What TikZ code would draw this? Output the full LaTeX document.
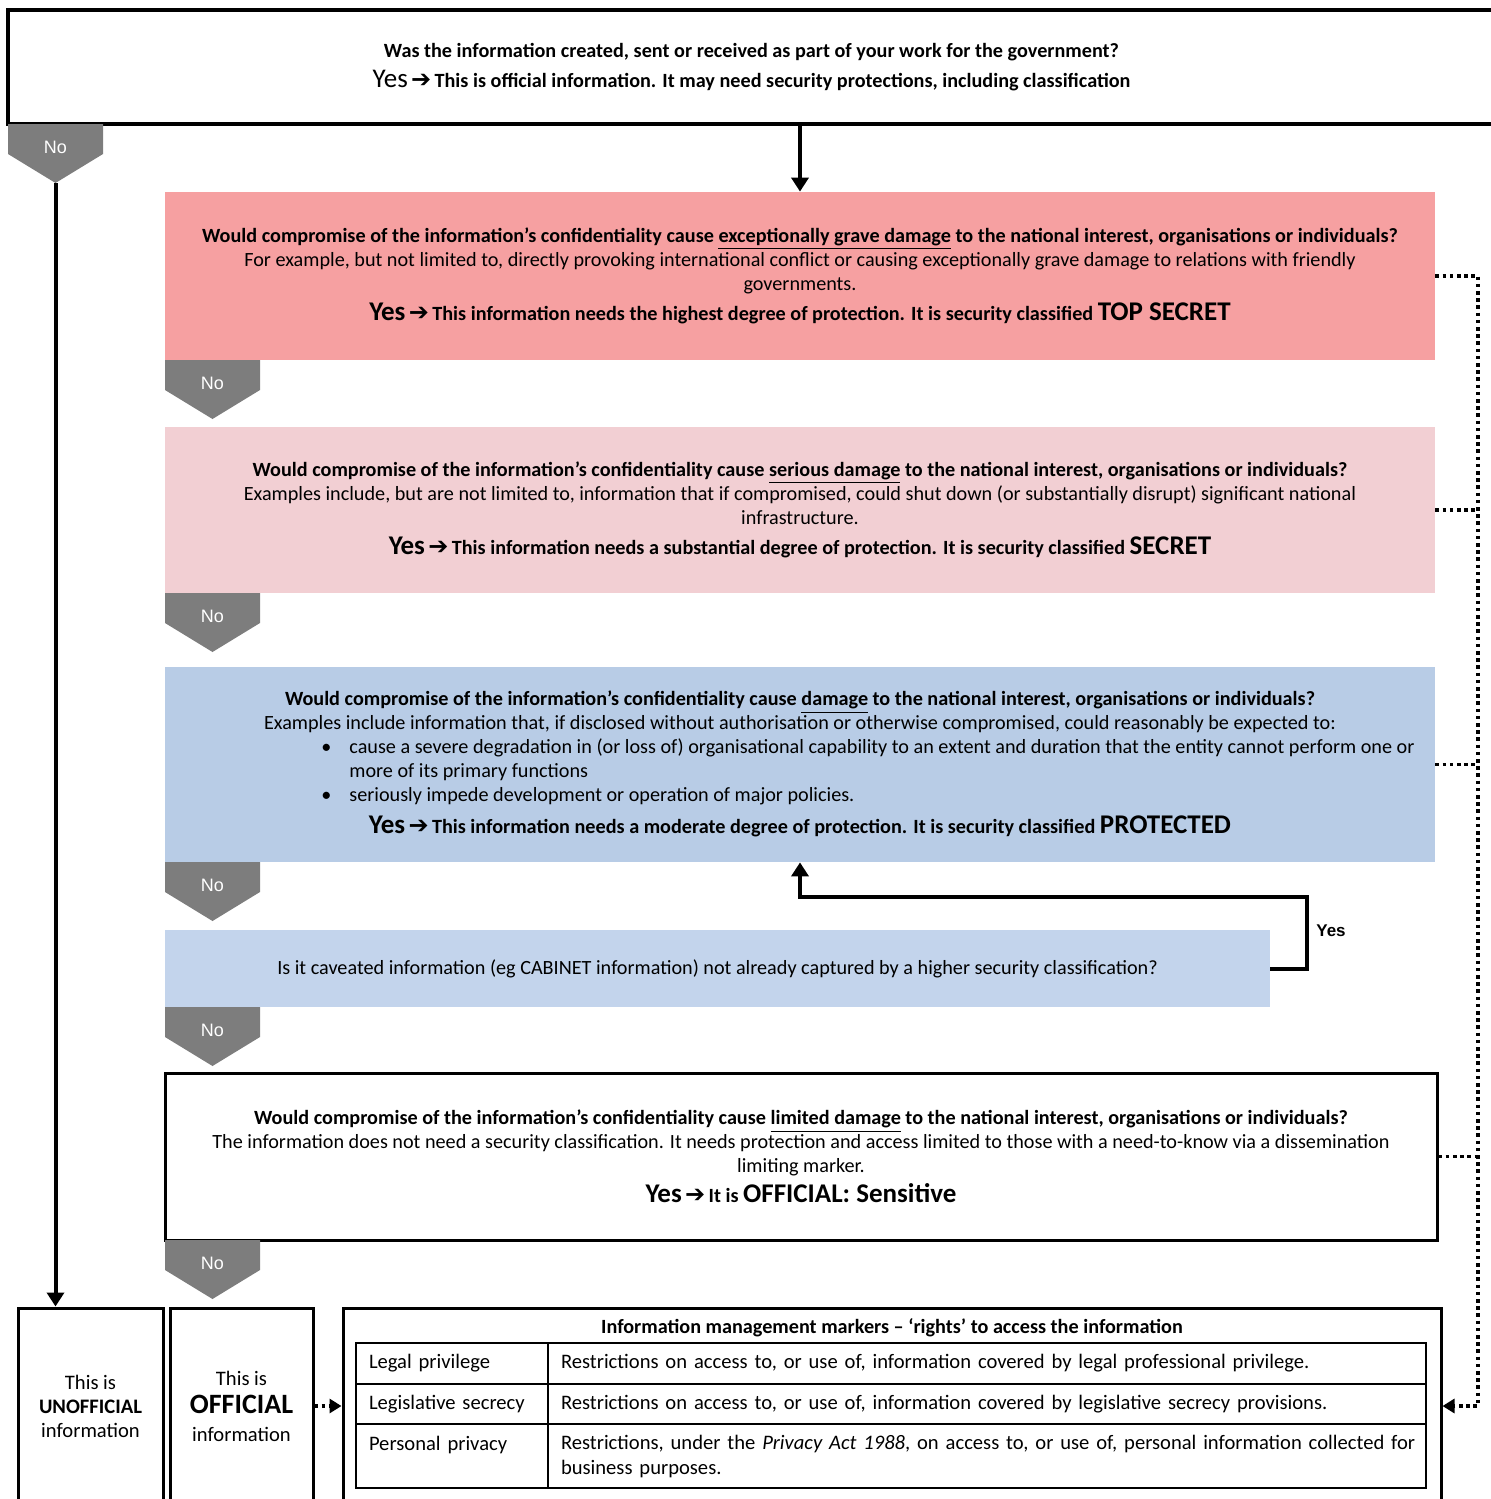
\documentclass[tikz,border=0pt]{standalone}
\usepackage{fontspec}
\setmainfont{Carlito}
\newfontfamily\lsansfont{Liberation Sans}
\newfontfamily\dvsfont{DejaVu Sans}
\usetikzlibrary{arrows.meta, positioning}

\definecolor{tsred}{HTML}{F6A0A1}
\definecolor{scpink}{HTML}{F2CFD3}
\definecolor{prblue}{HTML}{B8CCE6}
\definecolor{cavblue}{HTML}{C3D4EC}
\definecolor{chevgray}{HTML}{7D7D7D}

\newcommand\arrsym{\,{\dvsfont\fontsize{12}{12}\selectfont ➔}\,}
\newcommand\yesarr{{\fontsize{13.5}{15}\selectfont\bfseries Yes}\arrsym}
\newcommand\cls[1]{{\fontsize{13.5}{15}\selectfont\bfseries #1}}

\begin{document}
\begin{tikzpicture}[
  x=0.5pt, y=-0.5pt,
  font=\fontsize{10.1}{12}\selectfont,
  qbox/.style={align=center, inner sep=0pt},
  arr/.style={-{Triangle[width=8.5pt,length=7pt]}, line width=2pt},
  dots/.style={line width=1.8pt, dash pattern=on 1.8pt off 1.8pt},
  dotarr/.style={dots, -{Triangle[width=7pt,length=6pt]}},
  chev/.style={fill=chevgray},
  notxt/.style={text=white, font=\lsansfont\fontsize{9}{10}\selectfont},
  endbox/.style={draw, line width=1.5pt, minimum height=98pt, align=center,
                 font=\fontsize{10.3}{12}\selectfont},
  cell/.style={draw, line width=1pt, anchor=north west, inner xsep=6.5pt,
               inner ysep=0pt, align=left, font=\fontsize{10.3}{12.5}\selectfont}
]
\useasboundingbox (0,0) rectangle (1490,1499);

% question boxes
\node[qbox, draw, line width=2pt, minimum width=743.5pt, minimum height=57pt] (top) at (751.5,67)
  {\textbf{Was the information created, sent or received as part of your work for the government?}\\[3pt]
   {\fontsize{13.5}{15}\selectfont Yes}\arrsym\textbf{This is official information. It may need security protections, including classification}};
\node[qbox, fill=tsred, minimum width=635pt, minimum height=84pt] (ts) at (800,276)
  {\textbf{Would compromise of the information’s confidentiality cause \underline{exceptionally grave damage} to the national interest, organisations or individuals?}\\
   For example, but not limited to, directly provoking international conflict or causing exceptionally grave damage to relations with friendly\\
   governments.\\[3pt]
   \yesarr\textbf{This information needs the highest degree of protection. It is security classified \cls{TOP SECRET}}};
\node[qbox, fill=scpink, minimum width=635pt, minimum height=83pt] (sc) at (800,510)
  {\textbf{Would compromise of the information’s confidentiality cause \underline{serious damage} to the national interest, organisations or individuals?}\\
   Examples include, but are not limited to, information that if compromised, could shut down (or substantially disrupt) significant national\\
   infrastructure.\\[3pt]
   \yesarr\textbf{This information needs a substantial degree of protection. It is security classified \cls{SECRET}}};
\node[qbox, fill=prblue, minimum width=635pt, minimum height=97.5pt] (pr) at (800,764.5) {};
\node[align=center] (prq) at (800,712)
  {\textbf{Would compromise of the information’s confidentiality cause \underline{damage} to the national interest, organisations or individuals?}\\
   Examples include information that, if disclosed without authorisation or otherwise compromised, could reasonably be expected to:};
\node[align=left, anchor=west, inner sep=0pt] (prb) at (321,772)
  {\makebox[14pt][l]{\textbullet}cause a severe degradation in (or loss of) organisational capability to an extent and duration that the entity cannot perform one or\\
   \hspace*{14pt}more of its primary functions\\
   \makebox[14pt][l]{\textbullet}seriously impede development or operation of major policies.};
\node (pry) at (800,826)
  {\yesarr\textbf{This information needs a moderate degree of protection. It is security classified \cls{PROTECTED}}};
\node[qbox, fill=cavblue, minimum width=552.5pt, minimum height=38.5pt] (cav) at (717.5,968.5)
  {Is it caveated information (eg CABINET information) not already captured by a higher security classification?};
\node[qbox, draw, line width=1.5pt, minimum width=636pt, minimum height=83.5pt] (os) at (801,1156.5)
  {\textbf{Would compromise of the information’s confidentiality cause \underline{limited damage} to the national interest, organisations or individuals?}\\
   The information does not need a security classification. It needs protection and access limited to those with a need-to-know via a dissemination\\
   limiting marker.\\[3pt]
   \yesarr\textbf{It is \cls{OFFICIAL: Sensitive}}};

% outcome boxes
\node[endbox, minimum width=72.5pt] (unof) at (90.5,1406) {This is\\\textbf{UNOFFICIAL}\\information};
\node[endbox, minimum width=71.5pt, font=\fontsize{10.3}{14}\selectfont] (off) at (241.5,1406)
  {This is\\{\fontsize{14}{16}\selectfont\bfseries OFFICIAL}\\information};
\node[endbox, minimum width=549pt] (mk) at (892,1406) {};
\node[font=\bfseries\fontsize{10.1}{12}\selectfont] (mkt) at (892,1328)
  {Information management markers – ‘rights’ to access the information};
\node[cell, text width=83pt, minimum height=20.5pt] (lp) at (355,1342) {Legal privilege};
\node[cell, text width=426pt, minimum height=20.5pt] (lpd) at (547,1342)
  {Restrictions on access to, or use of, information covered by legal professional privilege.};
\node[cell, text width=83pt, minimum height=20pt] (ls) at (355,1383) {\mbox{Legislative secrecy}};
\node[cell, text width=426pt, minimum height=20pt] (lsd) at (547,1383)
  {Restrictions on access to, or use of, information covered by legislative secrecy provisions.};
\node[cell, text width=83pt, minimum height=32pt] (pp) at (355,1423) {Personal privacy\\\mbox{}};
\node[cell, text width=426pt, minimum height=32pt] (ppd) at (547,1423)
  {\mbox{Restrictions, under the \textit{Privacy Act 1988}, on access to, or use of, personal information collected for}\\
   business purposes.};

% No badges
\foreach \n/\cx/\cy in {0/8/124, 1/165/360, 2/165/593, 3/165/862, 4/165/1007, 5/165/1240} {
  \fill[chev] (\cx,\cy) -- ++(95,0) -- ++(0,30) -- ++(-47.5,29) -- ++(-47.5,-29) -- cycle;
  \node[notxt] (no\n) at (\cx+47.5,\cy+23) {No};
  \coordinate (tip\n) at (\cx+47.5,\cy+59);
}

% connectors
\draw[arr] (top.south -| ts.north) -- (ts.north);
\draw[arr] (tip0) -- (tip0 |- unof.north);
\coordinate (loopr) at (1307,897);
\draw[arr] (cav.east) -| (loopr) -| (pr.south);
\node[font=\lsansfont\bfseries\fontsize{8.5}{10}\selectfont] (yeslbl) at (1331,931) {Yes};
\coordinate (rail) at (1478,1406);
\draw[dotarr] (ts.east) -| (rail) -- (mk.east);
\foreach \b in {sc, pr, os}
  \draw[dots] (\b.east) -- (\b.east -| rail);
\draw[dotarr] (off.east) -- (mk.west);
\end{tikzpicture}
\end{document}
